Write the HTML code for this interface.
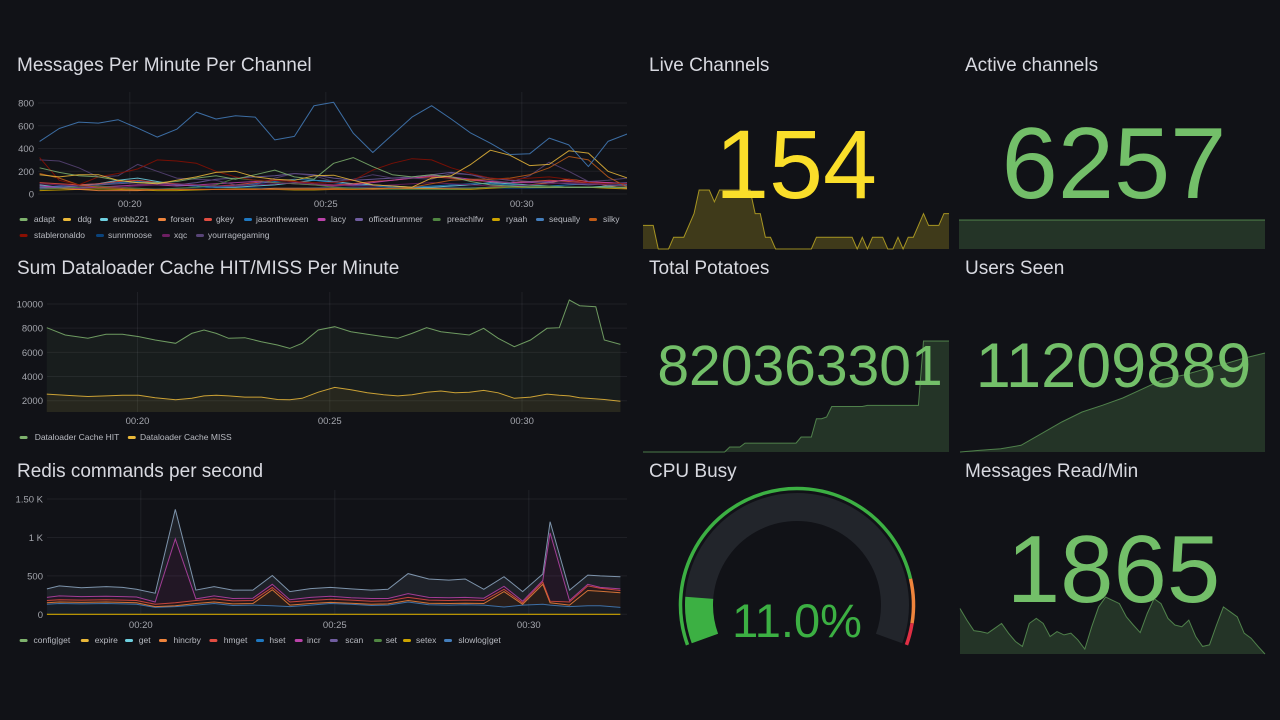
<!DOCTYPE html>
<html><head><meta charset="utf-8">
<style>
html,body{margin:0;padding:0;background:#111217;}
svg{display:block;font-family:"Liberation Sans",sans-serif;}
.title{fill:#d8d9e0;font-size:19px;}
.tick{fill:#a4a6ad;font-size:9.5px;}
.leg{fill:#b9bbc2;font-size:8.5px;}
</style></head>
<body>
<svg id="dash" width="1280" height="720" viewBox="0 0 1280 720">
<rect x="0" y="0" width="1280" height="720" fill="#111217"/>
<text class="title" x="17" y="71">Messages Per Minute Per Channel</text>
<text class="title" x="17" y="274">Sum Dataloader Cache HIT/MISS Per Minute</text>
<text class="title" x="17" y="477">Redis commands per second</text>
<text class="title" x="649" y="71">Live Channels</text>
<text class="title" x="965" y="71">Active channels</text>
<text class="title" x="649" y="274">Total Potatoes</text>
<text class="title" x="965" y="274">Users Seen</text>
<text class="title" x="649" y="477">CPU Busy</text>
<text class="title" x="965" y="477">Messages Read/Min</text>
<g id="c1"></g>
<g id="c2"></g>
<g id="c3"></g>
<g id="stats"></g>
<g id="gauge"></g>
</svg>
<script>
// ---------- Chart 1 data ----------
const times1 = [17.7,18.2,18.7,19.2,19.7,20.2,20.7,21.2,21.7,22.2,22.7,23.2,23.7,24.2,24.7,25.2,25.7,26.2,26.7,27.2,27.7,28.2,28.7,29.2,29.7,30.2,30.7,31.2,31.7,32.2,32.7];
const c1Ticks = [0,200,400,600,800];
const timeTicks = [20,25,30];
const timeLabels = ["00:20","00:25","00:30"];
const names1 = ["adapt","ddg","erobb221","forsen","gkey","jasontheween","lacy","officedrummer","preachlfw","ryaah","sequally","silky","stableronaldo","sunnmoose","xqc","yourragegaming"];
const colors1 = ["#7EB26D","#EAB839","#6ED0E0","#EF843C","#E24D42","#1F78C1","#BA43A9","#705DA0","#508642","#CCA300","#447EBC","#C15C17","#890F02","#0A437C","#6D1F62","#584477"];
const adapt = [230,190,160,150,120,100,100,110,140,160,130,170,210,150,130,270,320,240,170,150,170,150,110,80,70,60,60,60,60,60,60];
const ddg = [170,150,170,170,120,100,90,120,150,190,200,150,130,120,160,165,120,80,70,60,140,160,260,385,340,250,260,380,360,200,140];
const erobb221 = [80,60,70,90,120,140,110,80,70,60,60,70,80,100,120,110,90,80,70,60,60,70,80,100,90,80,70,60,60,70,80];
const forsen = [60,50,40,30,30,30,40,40,40,40,40,40,50,50,50,50,50,50,50,50,50,50,50,60,70,80,100,130,110,70,50];
const gkey = [100,90,80,90,110,120,100,90,80,70,80,100,120,110,90,80,90,110,120,140,150,140,120,110,100,110,120,110,100,100,90];
const jasontheween = [60,70,80,90,100,110,100,80,70,60,70,90,110,130,120,100,80,70,60,60,70,80,90,90,80,70,70,80,90,90,80];
const lacy = [70,60,50,60,70,80,80,70,80,90,100,110,100,90,80,70,80,100,120,140,160,150,130,110,100,100,110,120,110,100,90];
const officedrummer = [50,60,70,80,90,100,90,80,100,130,140,150,160,180,170,140,120,130,140,150,170,190,170,140,120,110,100,90,80,90,100];
const preachlfw = [40,50,60,70,60,50,40,50,60,80,140,120,100,90,80,60,50,40,40,40,40,40,50,60,60,70,70,60,60,60,60];
const ryaah = [30,35,40,45,40,35,30,30,35,40,45,45,40,35,35,40,40,45,50,50,45,40,40,50,60,60,60,60,60,50,45];
const sequally = [462,576,632,623,653,579,500,570,720,659,688,676,476,506,776,806,535,365,520,676,776,659,535,447,347,353,491,432,241,462,529];
const silky = [180,140,80,60,50,40,40,40,40,40,40,40,40,40,40,40,40,40,50,60,90,120,130,130,140,170,230,330,300,150,60];
const stableronaldo = [320,120,80,150,180,220,300,290,270,200,150,120,120,110,100,100,120,210,270,310,300,230,180,140,130,140,150,130,100,90,90];
const sunnmoose = [50,55,60,55,50,45,45,50,55,60,60,55,50,50,55,60,60,55,50,50,55,60,60,55,50,50,55,60,60,55,50];
const xqc = [90,80,70,60,60,70,80,90,80,70,70,80,90,100,90,80,70,70,80,90,100,90,80,70,70,80,90,100,90,80,70];
const yourragegaming = [300,290,230,150,160,260,200,140,130,120,80,80,140,180,160,110,130,170,140,140,130,180,170,120,100,160,280,200,110,120,140];

// ---------- Chart 2 data ----------
const times2 = [17.64,18.12,18.71,19.18,19.61,20.03,20.46,20.99,21.41,21.73,22.05,22.37,22.79,23.22,23.64,23.96,24.28,24.70,25.13,25.55,25.98,26.40,26.77,27.14,27.52,27.89,28.26,28.63,29.00,29.38,29.80,30.22,30.65,30.97,31.23,31.50,31.92,32.14,32.56];
const cacheHit = [8040,7435,7160,7490,7490,7300,7020,6745,7570,7850,7570,7160,7210,6880,6610,6330,6750,7850,8125,7710,7490,7300,7160,7570,8040,7710,7570,7435,7990,7160,6470,7020,7990,8040,10330,9860,9780,7020,6660];
const cacheMiss = [2550,2450,2350,2400,2450,2450,2250,2080,2200,2400,2450,2400,2300,2300,2100,2080,2200,2700,3100,2900,2650,2500,2400,2500,2700,2800,2650,2700,2850,2650,2200,2300,2550,2450,2400,2250,2150,2100,1950];
const c2Ticks = [2000,4000,6000,8000,10000];

// ---------- Chart 3 data ----------
const times3 = [17.58,17.90,18.47,19.11,19.53,19.89,20.37,20.89,21.42,21.89,22.37,22.89,23.39,23.84,24.37,24.89,25.42,25.94,26.37,26.89,27.42,27.94,28.36,28.84,29.36,29.84,30.36,30.55,31.05,31.52,31.84,32.36];
const slowlogGet = [130,140,135,140,135,130,90,100,120,140,115,120,110,100,120,140,130,115,120,160,125,120,125,120,95,120,130,120,100,110,110,90];
const hincrby = [20,20,20,20,20,20,10,10,20,20,20,20,210,20,20,15,15,15,15,20,20,20,20,20,200,10,260,30,20,200,190,190];
const hmget = [30,30,30,30,30,30,30,40,40,40,40,40,30,40,40,40,40,40,40,40,40,40,40,40,30,20,30,20,40,60,40,30];
const incr = [40,50,45,45,45,45,30,830,20,40,30,30,40,30,40,40,30,35,30,50,35,35,35,30,40,20,20,890,20,20,10,20];
const getCmd = [110,130,115,125,120,100,115,385,115,120,110,105,115,105,115,115,115,110,120,260,240,230,240,115,125,125,85,145,135,120,150,160];
const c3Ticks = [0,500,1000,1500];
const c3TickLabels = ["0","500","1 K","1.50 K"];
const names3 = ["config|get","expire","get","hincrby","hmget","hset","incr","scan","set","setex","slowlog|get"];
const colors3 = ["#7EB26D","#EAB839","#6ED0E0","#EF843C","#E24D42","#1F78C1","#BA43A9","#705DA0","#508642","#CCA300","#447EBC"];

// ---------- Stat data ----------
const liveChannels = [152,152,152,150,150,150,151,151,151,152,153,155,155,155,154,155,155,155,155,155,155,155,153,153,151,151,150,150,150,150,150,150,150,150,151,151,151,151,151,151,151,151,150,151,150,151,151,151,150,150,151,150,151,151,152,153,152,152,152,153,153];
const activeChannels = [6257,6257,6257,6257,6257,6257,6257,6257,6257,6257];
const potatoesAdded = [0,0,0,0,0,0,0,0,0,0,0,0,0,0,0,0,0,4.5,4.5,4.5,8,8,8,8,8,8,8,8,8,8,8,13.5,13.5,13.5,30,30,31.5,41,41,41,41,41,41,41,42,42,42,42,42,42,42,42,42,42,42,100,100,100,100,100,100];
const usersSeen = [0,5,10,20,55,90,120,140,162,190,218,231,248,264,282,297];
const messagesRead = [138,103,71,68,63,78,93,63,38,23,93,108,93,53,68,58,63,43,15,83,143,173,163,153,113,88,65,123,168,153,108,88,83,103,53,23,28,88,143,128,113,63,48,23,0];
const statValues = ["154","6257","820363301","11209889","1865"];
const cpuBusy = 11.0;
const cpuThresholds = [0,85,95];
const cpuThresholdColors = ["#3cb043","#ef843c","#e02f44"];

// ---------- helpers ----------
const NS = 'http://www.w3.org/2000/svg';
function mk(tag, attrs, parent){const e=document.createElementNS(NS,tag);for(const k in attrs)e.setAttribute(k,attrs[k]);parent.appendChild(e);return e;}
function linePath(xs, ys){return xs.map((x,i)=>(i?'L':'M')+x.toFixed(1)+','+ys[i].toFixed(1)).join('');}

function axes(g, cfg){
  cfg.yTicks.forEach((t,i)=>{
    const y=cfg.y(t);
    const gl=mk('line',{x1:cfg.x0,x2:cfg.x1,y1:y,y2:y,stroke:'rgba(204,204,220,0.08)','stroke-width':1},g);
    
    
    const tl=mk('text',{x:cfg.labelX,y:y+3.5,'text-anchor':'end',class:'tick'},g);
    tl.textContent=cfg.yLabels?cfg.yLabels[i]:String(t);
    
    
  });
  timeTicks.forEach((t,i)=>{
    const x=cfg.x(t);
    const gl=mk('line',{x1:x,x2:x,y1:cfg.top,y2:cfg.bottom,stroke:'rgba(204,204,220,0.08)','stroke-width':1},g);
    
    
    const tl=mk('text',{x:x,y:cfg.timeY,'text-anchor':'middle',class:'tick'},g);
    tl.textContent=timeLabels[i];
    
    
  });
}
function legendItem(g, mx, tx, y, color, label){
  const m=mk('rect',{x:mx,y:y-4,width:8,height:3,rx:1.5,fill:color},g);
  
  
  const t=mk('text',{x:tx,y:y,class:'leg'},g);
  t.textContent=label;
  
  
}

// ---------- Chart 1 ----------
(function(){
  const g=document.getElementById('c1');
  const x=m=>129.8+(m-20)*39.2;
  const y=v=>194-v*0.11375;
  axes(g,{x,y,x0:38,x1:627,top:92,bottom:194,labelX:34,yTicks:c1Ticks,timeY:207});
  const clip=mk('clipPath',{id:'clip1'},g);
  mk('rect',{x:38,y:88,width:589,height:108},clip);
  const series=[adapt,ddg,erobb221,forsen,gkey,jasontheween,lacy,officedrummer,preachlfw,ryaah,sequally,silky,stableronaldo,sunnmoose,xqc,yourragegaming];
  const order=[13,9,3,2,5,4,6,7,8,14,15,11,12,0,1,10];
  const lg=mk('g',{'clip-path':'url(#clip1)'},g);
  order.forEach(i=>{
    const p=mk('path',{d:linePath(times1.map(x),series[i].map(y)),fill:'none',stroke:colors1[i],'stroke-width':1,'stroke-opacity':0.85,'stroke-linejoin':'round'},lg);
    
    
  });
  const mxs=[19.6,63,100,158,204,244,317.6,355,432.7,492,536,589,19.6,96,162,196];
  const txs=[33.9,77.6,113,170.6,216,256,331,368.6,447,506,549,603,34,108,174,208];
  names1.forEach((n,i)=>legendItem(g,mxs[i],txs[i],i<12?222:238,colors1[i],n));
})();

// ---------- Chart 2 ----------
(function(){
  const g=document.getElementById('c2');
  const x=m=>137.5+(m-20)*38.45;
  const y=v=>400.7-(v-2000)*0.012088;
  axes(g,{x,y,x0:47,x1:627,top:292,bottom:412,labelX:43,yTicks:c2Ticks,timeY:424});
  const base=412;
  [[cacheHit,'#7EB26D','cache-hit'],[cacheMiss,'#EAB839','cache-miss']].forEach(([d,c,n])=>{
    const xs=times2.map(x), ys=d.map(y);
    const a=mk('path',{d:linePath(xs,ys)+'L'+xs[xs.length-1]+','+base+'L'+xs[0]+','+base+'Z',fill:c,'fill-opacity':0.07},g);
    
    
    const l=mk('path',{d:linePath(xs,ys),fill:'none',stroke:c,'stroke-width':1,'stroke-opacity':0.85},g);
    
    
  });
  legendItem(g,19.6,34.7,440,'#7EB26D','Dataloader Cache HIT');
  legendItem(g,127.8,140,440,'#EAB839','Dataloader Cache MISS');
})();

// ---------- Chart 3 ----------
(function(){
  const g=document.getElementById('c3');
  const x=m=>140.8+(m-20)*38.8;
  const y=v=>614.3-v*0.07683;
  axes(g,{x,y,x0:47,x1:627,top:490,bottom:614,labelX:43,yTicks:c3Ticks,yLabels:c3TickLabels,timeY:628});
  const layers=[[slowlogGet,'#447EBC','slowlog-get'],[hincrby,'#EF843C','hincrby'],[hmget,'#E24D42','hmget'],[incr,'#BA43A9','incr'],[getCmd,'#8fa9c4','get']];
  const xs=times3.map(x);
  let prev=times3.map(()=>0);
  const drawn=[];
  layers.forEach(([d,c,n])=>{
    const cum=prev.map((p,i)=>p+d[i]);
    const top=cum.map(y), bot=prev.map(y);
    let dpath=linePath(xs,top);
    for(let i=xs.length-1;i>=0;i--) dpath+='L'+xs[i].toFixed(1)+','+bot[i].toFixed(1);
    const a=mk('path',{d:dpath+'Z',fill:c,'fill-opacity':0.1},g);
    
    
    drawn.push([top,c,n]);
    prev=cum;
  });
  drawn.forEach(([top,c,n])=>{
    const l=mk('path',{d:linePath(xs,top),fill:'none',stroke:c,'stroke-width':1,'stroke-opacity':0.85},g);
    
    
  });
  const z=mk('line',{x1:xs[0],x2:xs[xs.length-1],y1:y(0),y2:y(0),stroke:'#CCA300','stroke-width':1.2},g);
  
  
  const mxs=[19.6,80.8,125,159,209.4,256,294.7,329.8,373.9,403,444];
  const txs=[33.5,94.7,138.8,173.5,223.7,269.4,307,345.3,385.7,416,458.4];
  names3.forEach((n,i)=>legendItem(g,mxs[i],txs[i],643,colors3[i],n));
})();

// ---------- Stats ----------
function sparkline(g, data, x0, x1, yb, yt, color, name){
  const mn=Math.min(...data), mx=Math.max(...data);
  const xs=data.map((_,i)=>x0+(x1-x0)*i/(data.length-1));
  const ys=data.map(v=>mx===mn?(yb+yt)/2:yb-(v-mn)/(mx-mn)*(yb-yt));
  const a=mk('path',{d:linePath(xs,ys)+'L'+x1+','+yb+'L'+x0+','+yb+'Z',fill:color,'fill-opacity':0.2},g);
  
  
  const l=mk('path',{d:linePath(xs,ys),fill:'none',stroke:color,'stroke-width':1,'stroke-opacity':0.6},g);
  
  
}
function bigNum(g, txt, cx, by, size, color, name){
  const t=mk('text',{x:cx,y:by,'text-anchor':'middle','font-size':size,fill:color},g);
  t.textContent=txt;
  
  
}
(function(){
  const g=document.getElementById('stats');
  sparkline(g,liveChannels,643,949,249,190,'#fade2a','live-channels');
  bigNum(g,statValues[0],796,198,97,'#fade2a','live-channels-value');
  sparkline(g,activeChannels,959,1265,249,191,'#73bf69','active-channels');
  bigNum(g,statValues[1],1114,198,101,'#73bf69','active-channels-value');
  sparkline(g,potatoesAdded,643,949,452,341,'#73bf69','total-potatoes');
  bigNum(g,statValues[2],800,385,57,'#73bf69','total-potatoes-value');
  sparkline(g,usersSeen,960,1265,452,353,'#73bf69','users-seen');
  bigNum(g,statValues[3],1113.5,387,63,'#73bf69','users-seen-value');
  sparkline(g,messagesRead,960,1265,654,597,'#73bf69','messages-read');
  bigNum(g,statValues[4],1113.5,602,96,'#73bf69','messages-read-value');
})();

// ---------- Gauge ----------
(function(){
  const g=document.getElementById('gauge');
  const cx=797, cy=605, A0=200, A1=-20;
  const ang=p=>A0-(A0-A1)*p/100;
  function arc(r,a0,a1){
    const p=a=>[cx+r*Math.cos(a*Math.PI/180), cy-r*Math.sin(a*Math.PI/180)];
    const s=p(a0), e=p(a1);
    return 'M'+s[0].toFixed(2)+','+s[1].toFixed(2)+'A'+r+','+r+' 0 '+((a0-a1)>180?1:0)+' 1 '+e[0].toFixed(2)+','+e[1].toFixed(2);
  }
  const bg=mk('path',{d:arc(98,A0,A1),fill:'none',stroke:'#22252b','stroke-width':28},g);
  
  
  const v=mk('path',{d:arc(98,A0,ang(cpuBusy)),fill:'none',stroke:'#3cb043','stroke-width':28},g);
  
  
  cpuThresholds.forEach((t,i)=>{
    const end=i<cpuThresholds.length-1?cpuThresholds[i+1]:100;
    const th=mk('path',{d:arc(116.5,ang(t),ang(end)),fill:'none',stroke:cpuThresholdColors[i],'stroke-width':3.5},g);
    
    
  });
  const t=mk('text',{x:797,y:637,'text-anchor':'middle','font-size':47,fill:'#3cb043'},g);
  t.textContent=cpuBusy.toFixed(1)+'%';
  
  
})();
</script>
</body></html>
